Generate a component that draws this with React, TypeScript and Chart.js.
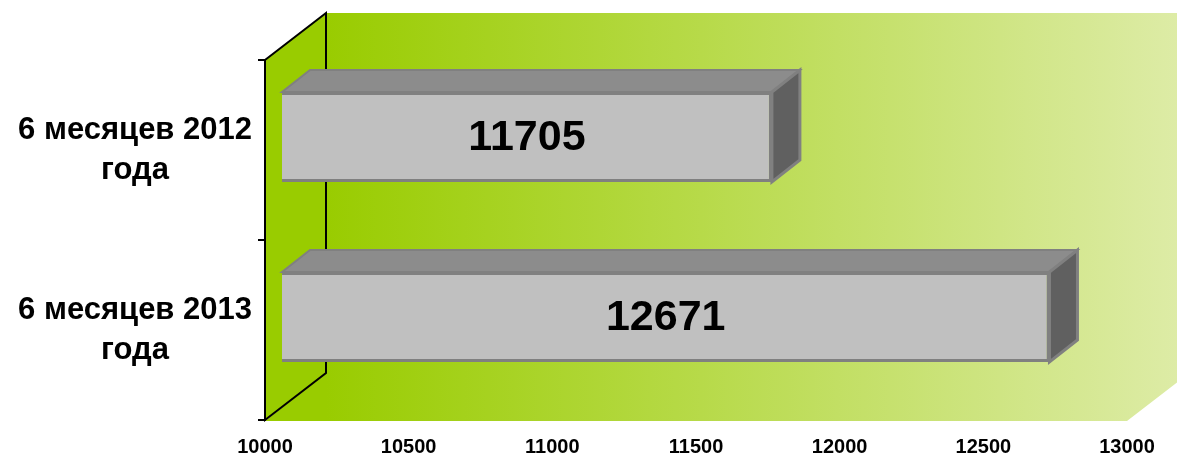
import React, { useEffect, useRef } from "react";
import { Chart, registerables } from "chart.js";

Chart.register(...registerables);

const categories: string[][] = [
  ["6 месяцев 2012", "года"],
  ["6 месяцев 2013", "года"],
];
const values: number[] = [11705, 12671];
const xTickValues: number[] = [10000, 10500, 11000, 11500, 12000, 12500, 13000];
const xMin = 10000;
const xMax = 13000;

const FONT = "'Liberation Sans', Arial, sans-serif";
// 3D geometry (style)
const DEPTH_X = 61;
const DEPTH_Y = 47;
const BAR_FRONT_X = 17;
const BAR_FRONT_Y = 13;
const BAR_DEPTH_X = 28;
const BAR_DEPTH_Y = 22;

const wallsPlugin = {
  id: "walls3d",
  beforeDraw(chart: any) {
    const { ctx, chartArea } = chart;
    const { left, right, top, bottom } = chartArea;
    ctx.save();
    const grad = ctx.createLinearGradient(left + DEPTH_X, 0, right + DEPTH_X, 0);
    grad.addColorStop(0, "rgb(153,204,0)");
    grad.addColorStop(1, "rgb(222,236,168)");
    ctx.fillStyle = grad;
    ctx.beginPath();
    ctx.moveTo(left, bottom + 1);
    ctx.lineTo(right, bottom + 1);
    ctx.lineTo(right + DEPTH_X, bottom + 1 - DEPTH_Y);
    ctx.lineTo(right + DEPTH_X, top - DEPTH_Y);
    ctx.lineTo(left + DEPTH_X, top - DEPTH_Y);
    ctx.lineTo(left + DEPTH_X, bottom - DEPTH_Y);
    ctx.closePath();
    ctx.fill();
    ctx.fillStyle = "#99CC00";
    ctx.beginPath();
    ctx.moveTo(left, top);
    ctx.lineTo(left + DEPTH_X, top - DEPTH_Y);
    ctx.lineTo(left + DEPTH_X, bottom - DEPTH_Y);
    ctx.lineTo(left, bottom);
    ctx.closePath();
    ctx.fill();
    ctx.strokeStyle = "#000";
    ctx.lineWidth = 2;
    ctx.lineJoin = "miter";
    ctx.stroke();
    ctx.restore();
  },
  beforeDatasetsDraw(chart: any) {
    const { ctx } = chart;
    const meta = chart.getDatasetMeta(0);
    ctx.save();
    ctx.lineWidth = 2;
    ctx.strokeStyle = "#808080";
    meta.data.forEach((bar: any) => {
      const x0 = bar.base + BAR_FRONT_X;
      const x1 = bar.x + BAR_FRONT_X;
      const yT = bar.y - bar.height / 2 - BAR_FRONT_Y;
      const yB = bar.y + bar.height / 2 - BAR_FRONT_Y;
      ctx.fillStyle = "#8C8C8C";
      ctx.beginPath();
      ctx.moveTo(x0, yT);
      ctx.lineTo(x1, yT);
      ctx.lineTo(x1 + BAR_DEPTH_X, yT - BAR_DEPTH_Y);
      ctx.lineTo(x0 + BAR_DEPTH_X, yT - BAR_DEPTH_Y);
      ctx.closePath();
      ctx.fill();
      ctx.stroke();
      ctx.fillStyle = "#606060";
      ctx.beginPath();
      ctx.moveTo(x1, yT);
      ctx.lineTo(x1 + BAR_DEPTH_X, yT - BAR_DEPTH_Y);
      ctx.lineTo(x1 + BAR_DEPTH_X, yB - BAR_DEPTH_Y);
      ctx.lineTo(x1, yB);
      ctx.closePath();
      ctx.fill();
      ctx.lineWidth = 3;
      ctx.stroke();
      ctx.lineWidth = 2;
    });
    ctx.restore();
    ctx.save();
    ctx.translate(BAR_FRONT_X, -BAR_FRONT_Y);
  },
  afterDatasetsDraw(chart: any) {
    const { ctx } = chart;
    ctx.restore();
    const meta = chart.getDatasetMeta(0);
    ctx.save();
    ctx.fillStyle = "#000";
    ctx.font = `bold 43px ${FONT}`;
    ctx.textAlign = "center";
    ctx.textBaseline = "middle";
    meta.data.forEach((bar: any, i: number) => {
      const cx = (bar.base + bar.x) / 2 + BAR_FRONT_X;
      const cy = bar.y - BAR_FRONT_Y + 1;
      ctx.fillText(String(values[i]), cx, cy);
    });
    ctx.restore();
  },
};

export default function App() {
  const ref = useRef<HTMLCanvasElement | null>(null);
  useEffect(() => {
    if (!ref.current) return;
    const chart = new Chart(ref.current, {
      type: "bar",
      data: {
        labels: categories,
        datasets: [
          {
            data: values,
            base: xMin,
            backgroundColor: "#C0C0C0",
            borderColor: "#808080",
            borderWidth: 3,
            categoryPercentage: 0.5,
            barPercentage: 1,
            clip: false as any,
          },
        ],
      },
      options: {
        indexAxis: "y",
        animation: false,
        responsive: false,
        maintainAspectRatio: false,
        layout: { padding: { top: 60, right: 50, left: 0, bottom: 0 } },
        plugins: { legend: { display: false }, tooltip: { enabled: false } },
        scales: {
          x: {
            type: "linear",
            position: "bottom",
            min: xMin,
            max: xMax,
            afterBuildTicks: (scale: any) => {
              scale.ticks = xTickValues.map((v) => ({ value: v }));
            },
            afterFit: (scale: any) => {
              scale.height = 34;
              scale.paddingLeft = 0;
              scale.paddingRight = 0;
            },
            grid: { display: false, drawTicks: false },
            border: { display: false },
            ticks: {
              color: "#000",
              font: { family: FONT, size: 20, weight: "bold" },
              padding: 15,
              maxRotation: 0,
              autoSkip: false,
              callback: (v: any) => String(v),
            },
          },
          y: {
            type: "category",
            offset: true,
            afterFit: (scale: any) => {
              scale.width = 265;
              scale.paddingTop = 0;
              scale.paddingBottom = 0;
            },
            grid: {
              display: true,
              offset: true,
              drawOnChartArea: false,
              drawTicks: true,
              tickLength: 7,
              color: "#000",
              lineWidth: 2,
            },
            border: { display: true, color: "#000", width: 2 },
            ticks: {
              color: "#000",
              crossAlign: "center",
              padding: 6,
              font: { family: FONT, size: 31, weight: "bold", lineHeight: 40 / 31 },
            },
          },
        },
      } as any,
      plugins: [wallsPlugin],
    });
    return () => chart.destroy();
  }, []);
  return (
    <div style={{ position: "fixed", left: 0, top: 0, width: 1177, height: 454, background: "#fff" }}>
      <canvas ref={ref} width={1177} height={454} style={{ display: "block", width: 1177, height: 454 }} />
    </div>
  );
}
